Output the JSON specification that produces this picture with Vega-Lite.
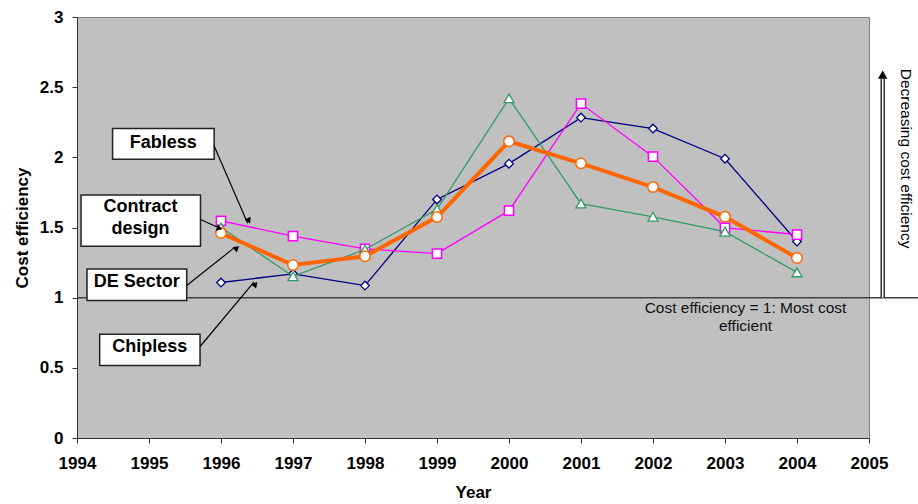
{
  "$schema": "https://vega.github.io/schema/vega-lite/v6.json",
  "width": 792,
  "height": 421,
  "autosize": "none",
  "padding": {"left": 77, "top": 17, "right": 49, "bottom": 66},
  "background": "white",
  "config": {
    "view": {"fill": "#C0C0C0", "stroke": "#808080", "strokeWidth": 1},
    "font": "Liberation Sans",
    "axis": {"grid": false, "domainColor": "#333333", "tickColor": "#333333", "labelColor": "black", "titleColor": "black", "labelFont": "Liberation Sans", "titleFont": "Liberation Sans", "labelFontWeight": "bold", "titleFontWeight": "bold", "labelFontSize": 17, "titleFontSize": 17, "tickSize": 5, "labelOverlap": false}
  },
  "datasets": {
    "series": [
      {"year": 1996, "value": 1.108, "series": "Chipless"},
      {"year": 1997, "value": 1.17, "series": "Chipless"},
      {"year": 1998, "value": 1.086, "series": "Chipless"},
      {"year": 1999, "value": 1.70, "series": "Chipless"},
      {"year": 2000, "value": 1.955, "series": "Chipless"},
      {"year": 2001, "value": 2.283, "series": "Chipless"},
      {"year": 2002, "value": 2.205, "series": "Chipless"},
      {"year": 2003, "value": 1.99, "series": "Chipless"},
      {"year": 2004, "value": 1.40, "series": "Chipless"},
      {"year": 1996, "value": 1.548, "series": "Fabless"},
      {"year": 1997, "value": 1.438, "series": "Fabless"},
      {"year": 1998, "value": 1.348, "series": "Fabless"},
      {"year": 1999, "value": 1.314, "series": "Fabless"},
      {"year": 2000, "value": 1.62, "series": "Fabless"},
      {"year": 2001, "value": 2.383, "series": "Fabless"},
      {"year": 2002, "value": 2.005, "series": "Fabless"},
      {"year": 2003, "value": 1.498, "series": "Fabless"},
      {"year": 2004, "value": 1.45, "series": "Fabless"},
      {"year": 1996, "value": 1.50, "series": "DE Sector"},
      {"year": 1997, "value": 1.152, "series": "DE Sector"},
      {"year": 1998, "value": 1.343, "series": "DE Sector"},
      {"year": 1999, "value": 1.63, "series": "DE Sector"},
      {"year": 2000, "value": 2.42, "series": "DE Sector"},
      {"year": 2001, "value": 1.67, "series": "DE Sector"},
      {"year": 2002, "value": 1.576, "series": "DE Sector"},
      {"year": 2003, "value": 1.47, "series": "DE Sector"},
      {"year": 2004, "value": 1.18, "series": "DE Sector"},
      {"year": 1996, "value": 1.46, "series": "Contract design"},
      {"year": 1997, "value": 1.233, "series": "Contract design"},
      {"year": 1998, "value": 1.295, "series": "Contract design"},
      {"year": 1999, "value": 1.574, "series": "Contract design"},
      {"year": 2000, "value": 2.114, "series": "Contract design"},
      {"year": 2001, "value": 1.957, "series": "Contract design"},
      {"year": 2002, "value": 1.788, "series": "Contract design"},
      {"year": 2003, "value": 1.576, "series": "Contract design"},
      {"year": 2004, "value": 1.283, "series": "Contract design"}
    ],
    "boxes": [
      {"label": "Fabless", "x": 1994.494, "x2": 1995.905, "y": 2.205, "y2": 1.986},
      {"label": "Contract design", "x": 1994.056, "x2": 1995.715, "y": 1.731, "y2": 1.366},
      {"label": "DE Sector", "x": 1994.139, "x2": 1995.524, "y": 1.205, "y2": 0.979},
      {"label": "Chipless", "x": 1994.315, "x2": 1995.709, "y": 0.74, "y2": 0.516}
    ],
    "boxtext": [
      {"text": "Fabless", "x": 1995.197, "y": 2.10},
      {"text": "Contract", "x": 1994.882, "y": 1.648},
      {"text": "design", "x": 1994.882, "y": 1.486},
      {"text": "DE Sector", "x": 1994.829, "y": 1.114},
      {"text": "Chipless", "x": 1995.01, "y": 0.652}
    ],
    "arrows": [
      {"label": "Fabless", "x": 1995.905, "y": 2.081, "x2": 1996.37, "y2": 1.53},
      {"label": "Contract design", "x": 1995.715, "y": 1.557, "x2": 1995.96, "y2": 1.50},
      {"label": "DE Sector", "x": 1995.524, "y": 1.087, "x2": 1996.2, "y2": 1.362},
      {"label": "Chipless", "x": 1995.709, "y": 0.652, "x2": 1996.46, "y2": 1.112}
    ]
  },
  "encoding": {
    "x": {"field": "year", "type": "quantitative", "scale": {"domain": [1994, 2005], "nice": false, "zero": false},
      "axis": {"title": "Year", "values": [1994,1995,1996,1997,1998,1999,2000,2001,2002,2003,2004,2005], "format": "d", "labelPadding": 12, "titlePadding": 13, "labelFlush": false}},
    "y": {"field": "value", "type": "quantitative", "scale": {"domain": [0, 3], "nice": false},
      "axis": {"title": "Cost efficiency", "values": [0, 0.5, 1, 1.5, 2, 2.5, 3], "format": "~g", "labelPadding": 9, "titlePadding": 8, "labelFlush": false}}
  },
  "layer": [
    {
      "data": {"values": [{"year": 1994, "year2": 2005.68, "value": 1}]},
      "mark": {"type": "rule", "color": "#404040", "strokeWidth": 1.5},
      "encoding": {"x2": {"field": "year2"}}
    },
    {
      "data": {"values": [{"year": 2005.19, "value": 1.0, "value2": 2.56}]},
      "mark": {"type": "rule", "color": "black", "strokeWidth": 4.2},
      "encoding": {"y2": {"field": "value2"}}
    },
    {
      "data": {"values": [{"year": 2005.19, "value": 1.0, "value2": 2.56}]},
      "mark": {"type": "rule", "color": "white", "strokeWidth": 1.8},
      "encoding": {"y2": {"field": "value2"}}
    },
    {
      "data": {"values": [{"year": 2005.19, "value": 2.59}]},
      "mark": {"type": "point", "shape": "triangle-up", "filled": true, "color": "black", "size": 90, "opacity": 1}
    },
    {
      "data": {"values": [{"year": 2005.51, "value": 1.991, "text": "Decreasing cost efficiency"}]},
      "mark": {"type": "text", "angle": 90, "align": "center", "baseline": "middle", "fontSize": 15.5, "color": "black", "font": "Liberation Sans"},
      "encoding": {"text": {"field": "text"}}
    },
    {
      "data": {"values": [{"year": 2003.285, "value": 0.926, "text": "Cost efficiency = 1: Most cost"}, {"year": 2003.285, "value": 0.795, "text": "efficient"}]},
      "mark": {"type": "text", "align": "center", "baseline": "middle", "fontSize": 15.5, "color": "#111111", "font": "Liberation Sans"},
      "encoding": {"text": {"field": "text"}}
    },
    {
      "data": {"name": "series"},
      "transform": [{"filter": "datum.series === 'Chipless'"}],
      "mark": {"type": "line", "color": "#000080", "strokeWidth": 1.3}
    },
    {
      "data": {"name": "series"},
      "transform": [{"filter": "datum.series === 'Chipless'"}],
      "mark": {"type": "point", "shape": "diamond", "filled": true, "fill": "white", "stroke": "#000080", "strokeWidth": 1.3, "size": 75, "opacity": 1}
    },
    {
      "data": {"name": "series"},
      "transform": [{"filter": "datum.series === 'Fabless'"}],
      "mark": {"type": "line", "color": "#FF00FF", "strokeWidth": 1.3}
    },
    {
      "data": {"name": "series"},
      "transform": [{"filter": "datum.series === 'Fabless'"}],
      "mark": {"type": "point", "shape": "square", "filled": true, "fill": "white", "stroke": "#FF00FF", "strokeWidth": 1.5, "size": 85, "opacity": 1}
    },
    {
      "data": {"name": "series"},
      "transform": [{"filter": "datum.series === 'DE Sector'"}],
      "mark": {"type": "line", "color": "#339966", "strokeWidth": 1.3}
    },
    {
      "data": {"name": "series"},
      "transform": [{"filter": "datum.series === 'DE Sector'"}],
      "mark": {"type": "point", "shape": "triangle-up", "filled": true, "fill": "white", "stroke": "#339966", "strokeWidth": 1.3, "size": 100, "opacity": 1}
    },
    {
      "data": {"name": "series"},
      "transform": [{"filter": "datum.series === 'Contract design'"}],
      "mark": {"type": "line", "color": "#FF6600", "strokeWidth": 4}
    },
    {
      "data": {"name": "series"},
      "transform": [{"filter": "datum.series === 'Contract design'"}],
      "mark": {"type": "point", "shape": "circle", "filled": true, "fill": "white", "stroke": "#FF6600", "strokeWidth": 1.5, "size": 110, "opacity": 1}
    },
    {
      "data": {"name": "boxes"},
      "mark": {"type": "rect", "fill": "white", "stroke": "#222222", "strokeWidth": 1.5},
      "encoding": {"x": {"field": "x", "type": "quantitative"}, "x2": {"field": "x2"}, "y": {"field": "y", "type": "quantitative"}, "y2": {"field": "y2"}}
    },
    {
      "data": {"name": "boxtext"},
      "mark": {"type": "text", "align": "center", "baseline": "middle", "fontSize": 18, "fontWeight": "bold", "color": "black", "font": "Liberation Sans"},
      "encoding": {"x": {"field": "x", "type": "quantitative"}, "y": {"field": "y", "type": "quantitative"}, "text": {"field": "text"}}
    },
    {
      "data": {"name": "arrows"},
      "mark": {"type": "rule", "color": "black", "strokeWidth": 1.2},
      "encoding": {"x": {"field": "x", "type": "quantitative"}, "x2": {"field": "x2"}, "y": {"field": "y", "type": "quantitative"}, "y2": {"field": "y2"}}
    },
    {
      "data": {"values": [{"year": 1996.387, "value": 1.548}]},
      "mark": {"type": "point", "shape": "triangle-up", "filled": true, "color": "black", "size": 45, "opacity": 1, "angle": 155.5}
    },
    {
      "data": {"values": [{"year": 1995.98, "value": 1.494}]},
      "mark": {"type": "point", "shape": "triangle-up", "filled": true, "color": "black", "size": 45, "opacity": 1, "angle": 107.5}
    },
    {
      "data": {"values": [{"year": 1996.221, "value": 1.354}]},
      "mark": {"type": "point", "shape": "triangle-up", "filled": true, "color": "black", "size": 45, "opacity": 1, "angle": 51.9}
    },
    {
      "data": {"values": [{"year": 1996.479, "value": 1.096}]},
      "mark": {"type": "point", "shape": "triangle-up", "filled": true, "color": "black", "size": 45, "opacity": 1, "angle": 40.9}
    }
  ]
}
